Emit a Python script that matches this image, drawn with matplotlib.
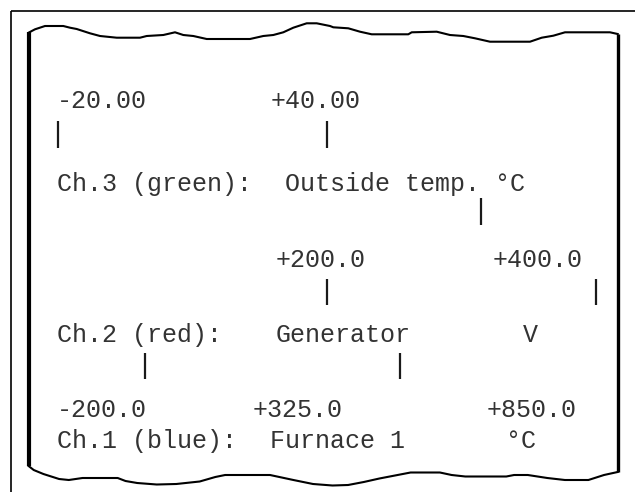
import matplotlib
matplotlib.use("Agg")
import matplotlib.pyplot as plt

# ---- data ----
channels = ["Ch.1 (blue):", "Ch.2 (red):", "Ch.3 (green):"]
names = ["Furnace 1", "Generator", "Outside temp."]
units = ["°C", "V", "°C"]
ch1_scale = ["-200.0", "+325.0", "+850.0"]
ch2_scale = ["+200.0", "+400.0"]
ch3_scale = ["-20.00", "+40.00"]

# ---- layout (pixel space) ----
W, H = 635, 492
fig = plt.figure(figsize=(W / 100, H / 100), dpi=100)
ax = fig.add_axes([0, 0, 1, 1])
ax.set_xlim(0, W)
ax.set_ylim(H, 0)
ax.axis("off")

FONT = dict(family=["Liberation Mono", "DejaVu Sans Mono"], fontsize=18,
            color="#333333", va="center", ha="left")

# outer frame (top and left only visible)
ax.plot([11, W + 5], [11, 11], color="black", lw=1.2, solid_capstyle="butt")
ax.plot([11, 11], [11, H + 5], color="black", lw=1.2, solid_capstyle="butt")

# paper top torn edge
top_x = [29.3, 35, 45, 63.3, 70, 76.7, 90, 100, 116.7, 140, 146.7, 163.3, 175,
         183.3, 193.3, 206.7, 250, 263.3, 273.3, 283.3, 293.3, 306.7, 316.7, 330,
         333.3, 348.3, 360, 371.7, 408.3, 411.7, 436.7, 450, 463.3, 475, 490, 530,
         541.7, 553.3, 565, 610, 617.7]
top_y = [32.3, 29.3, 26, 26, 27.7, 29, 33.3, 36, 37.7, 37.7, 36, 35, 32.3,
         35, 36, 39, 39, 36, 35, 32.3, 27.7, 23.3, 23.3, 26,
         27.3, 28.3, 31.7, 34.3, 34.3, 32.3, 31.7, 35, 36, 38.3, 41.7, 41.7,
         37.7, 35.7, 32.3, 32.3, 34]
ax.plot(top_x, top_y, color="black", lw=1.5)

# paper bottom torn edge
bot_x = [28.6, 33.7, 43.4, 59.1, 68.8, 82.5, 117.7, 125.5, 137.2, 156.7, 176.3,
         199.7, 215.3, 225.1, 270, 293.4, 313, 332.5, 348.1, 363.8, 379.4, 395,
         410.6, 439.9, 451.6, 465.3, 506.3, 514.1, 527.8, 547.3, 564.9, 588.4,
         604, 617.7]
bot_y = [466, 470, 474, 479, 480, 478, 478, 481, 483, 484.5, 484, 481.5, 477,
         475, 475, 480, 484, 485.5, 485, 482, 478.5, 475.5, 472.5, 472.5, 475,
         476.5, 476.5, 475, 475, 478, 480, 480, 475, 472]
ax.plot(bot_x, bot_y, color="black", lw=1.5)

# paper side edges
ax.plot([29.3, 29.3], [32.3, 466], color="black", lw=3.0, solid_capstyle="butt")
ax.plot([617.7, 617.7], [34, 472], color="black", lw=2.4, solid_capstyle="butt")

# ---- text rows ----
# Ch.3
ch3_x = [57, 271]
for s, x in zip(ch3_scale, ch3_x):
    ax.text(x, 101, s, **FONT)
ax.text(57, 184, channels[2], **FONT)
ax.text(285, 184, names[2] + " " + units[2], **FONT)

# Ch.2
ch2_x = [276, 493]
for s, x in zip(ch2_scale, ch2_x):
    ax.text(x, 260, s, **FONT)
ax.text(57, 335, channels[1], **FONT)
ax.text(276, 335, names[1], **FONT)
ax.text(523, 335, units[1], **FONT)

# Ch.1
ch1_x = [57, 253, 487]
for s, x in zip(ch1_scale, ch1_x):
    ax.text(x, 410, s, **FONT)
ax.text(57, 441, channels[0], **FONT)
ax.text(270, 441, names[0], **FONT)
ax.text(506, 441, units[0], **FONT)

# ---- scale tick marks ----
tick_x = [58, 327, 481, 327, 596, 145, 400]
tick_y0 = [121, 121, 198, 279, 279, 353, 353]
tick_y1 = [148, 148, 225, 305, 305, 379, 379]
ax.vlines(tick_x, tick_y0, tick_y1, color="#1a1a1a", lw=1.6)

fig.savefig("out.png", dpi=100)
